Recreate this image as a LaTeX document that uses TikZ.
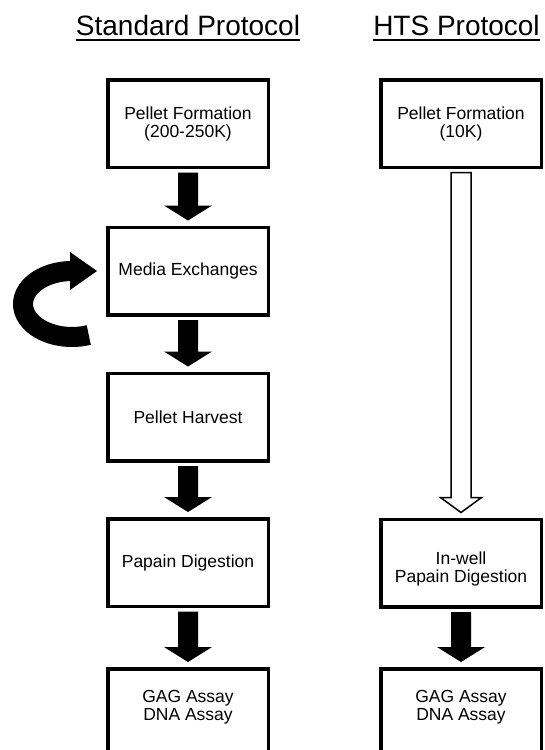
\documentclass[tikz,border=0pt]{standalone}
\usepackage{fontspec}
\setmainfont{Liberation Sans}
\usetikzlibrary{calc}
\newcommand{\flowarrow}[4][solidarrow]{%
  \path[#1] let \p1=($(#2.south)+(0,-3.5)$), \p2=($(#3.north)+(0,5)$) in
    (\x1-10pt,\y1) -- (\x1+10pt,\y1) -- (\x1+10pt,\y2+15pt) -- (\x1+#4,\y2+15pt)
    -- (\x1,\y2) -- (\x1-#4,\y2+15pt) -- (\x1-10pt,\y2+15pt) -- cycle;}
\begin{document}
\begin{tikzpicture}[x=1pt,y=1pt,
  box/.style={draw, line width=3.5pt, minimum width=160.5pt, minimum height=87.5pt,
    align=center, inner sep=0pt, font=\fontsize{17.5}{18}\selectfont},
  head/.style={font=\fontsize{28}{32}\selectfont, inner sep=0pt, anchor=base},
  solidarrow/.style={fill=black},
  hollowarrow/.style={draw=black, fill=white, line width=1.5pt, line join=miter},
  loopline/.style={line width=20pt, line cap=butt}]
\useasboundingbox (0,0) rectangle (545,-750);
\clip (0,0) rectangle (545,-750);
\fill[white] (0,0) rectangle (545,-750);
% headings
\node[head] (hs) at (188,-35) {Standard Protocol};
\node[head] (hh) at (456.5,-35) {HTS Protocol};
\draw[line width=2pt] ($(hs.base west)+(0,-4.5)$) -- ($(hs.base east)+(0,-4.5)$);
\draw[line width=2pt] ($(hh.base west)+(0,-4.5)$) -- ($(hh.base east)+(0,-4.5)$);
% standard column
\node[box] (s1) at (188,-123.5) {Pellet Formation\\(200-250K)};
\node[box] (s2) at (188,-271) {Media Exchanges};
\node[box] (s3) at (188,-417) {Pellet Harvest};
\node[box] (s4) at (188,-562.5) {Papain Digestion};
\node[box] (s5) at (188,-712.5) {GAG Assay\\DNA Assay\\[-3.3pt]\mbox{}};
% HTS column
\node[box] (h1) at (461,-123.5) {Pellet Formation\\(10K)};
\node[box] (h4) at (461,-563) {\mbox{}\\[6.7pt]In-well\\Papain Digestion};
\node[box] (h5) at (461,-712.5) {GAG Assay\\DNA Assay\\[-3.3pt]\mbox{}};
% arrows
\flowarrow{s1}{s2}{24pt}
\flowarrow{s2}{s3}{24pt}
\flowarrow{s3}{s4}{24pt}
\flowarrow{s4}{s5}{24pt}
\flowarrow{h4}{h5}{24pt}
\flowarrow[hollowarrow]{h1}{h4}{20.5pt}
% loop arrow into Media Exchanges
\coordinate (loopend) at ($(s2.west)+(-9,0)$);
\coordinate (loopstart) at ($(loopend)+(-8.24,-64.01)$);
\draw[loopline] (loopstart) arc[start angle=-70, end angle=-270, x radius=49pt, y radius=33pt];
\fill (loopend) -- ++(-27,19) -- ++(0,-38) -- cycle;
\end{tikzpicture}
\end{document}
